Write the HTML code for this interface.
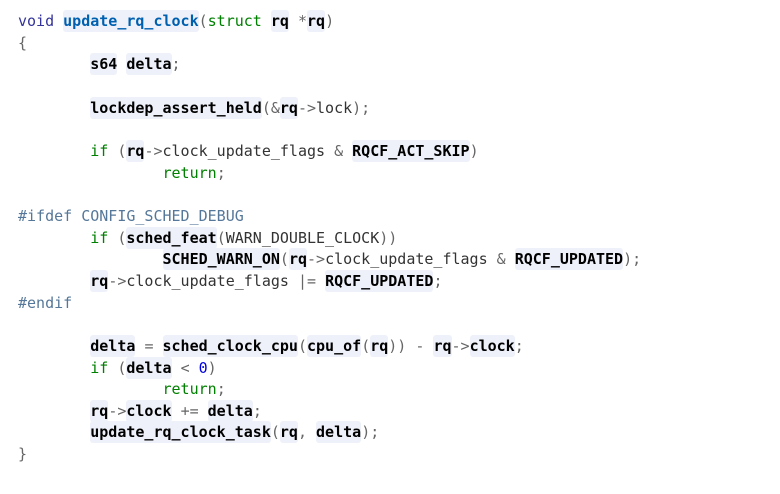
<!DOCTYPE html>
<html><head><meta charset="utf-8"><style>
html,body{margin:0;padding:0;background:#fff;width:780px;height:494px;overflow:hidden}
pre{margin:0;position:absolute;left:18px;top:11px;font-family:"DejaVu Sans Mono","Liberation Mono",monospace;font-size:15px;line-height:21.65px;color:#333;letter-spacing:0}
.k{color:#008000}.t{color:#333399}.p{color:#666}.pp{color:#557799}.n{color:#0000dd}
.b,.f{background:#eef1fa;border-radius:3px;font-weight:bold;color:#000;padding:2px 0}
.f{color:#0060b0}
</style></head><body><pre><span class="t">void</span> <span class="f">update_rq_clock</span><span class="p">(</span><span class="k">struct</span> <span class="b">rq</span> <span class="p">*</span><span class="b">rq</span><span class="p">)</span>
<span class="p">{</span>
        <span class="b">s64</span> <span class="b">delta</span><span class="p">;</span>

        <span class="b">lockdep_assert_held</span><span class="p">(&amp;</span><span class="b">rq</span><span class="p">-&gt;</span>lock<span class="p">);</span>

        <span class="k">if</span> <span class="p">(</span><span class="b">rq</span><span class="p">-&gt;</span>clock_update_flags <span class="p">&amp;</span> <span class="b">RQCF_ACT_SKIP</span><span class="p">)</span>
                <span class="k">return</span><span class="p">;</span>

<span class="pp">#ifdef CONFIG_SCHED_DEBUG</span>
        <span class="k">if</span> <span class="p">(</span><span class="b">sched_feat</span><span class="p">(</span>WARN_DOUBLE_CLOCK<span class="p">))</span>
                <span class="b">SCHED_WARN_ON</span><span class="p">(</span><span class="b">rq</span><span class="p">-&gt;</span>clock_update_flags <span class="p">&amp;</span> <span class="b">RQCF_UPDATED</span><span class="p">);</span>
        <span class="b">rq</span><span class="p">-&gt;</span>clock_update_flags <span class="p">|=</span> <span class="b">RQCF_UPDATED</span><span class="p">;</span>
<span class="pp">#endif</span>

        <span class="b">delta</span> <span class="p">=</span> <span class="b">sched_clock_cpu</span><span class="p">(</span><span class="b">cpu_of</span><span class="p">(</span><span class="b">rq</span><span class="p">))</span> <span class="p">-</span> <span class="b">rq</span><span class="p">-&gt;</span><span class="b">clock</span><span class="p">;</span>
        <span class="k">if</span> <span class="p">(</span><span class="b">delta</span> <span class="p">&lt;</span> <span class="n">0</span><span class="p">)</span>
                <span class="k">return</span><span class="p">;</span>
        <span class="b">rq</span><span class="p">-&gt;</span><span class="b">clock</span> <span class="p">+=</span> <span class="b">delta</span><span class="p">;</span>
        <span class="b">update_rq_clock_task</span><span class="p">(</span><span class="b">rq</span><span class="p">,</span> <span class="b">delta</span><span class="p">);</span>
<span class="p">}</span></pre></body></html>
